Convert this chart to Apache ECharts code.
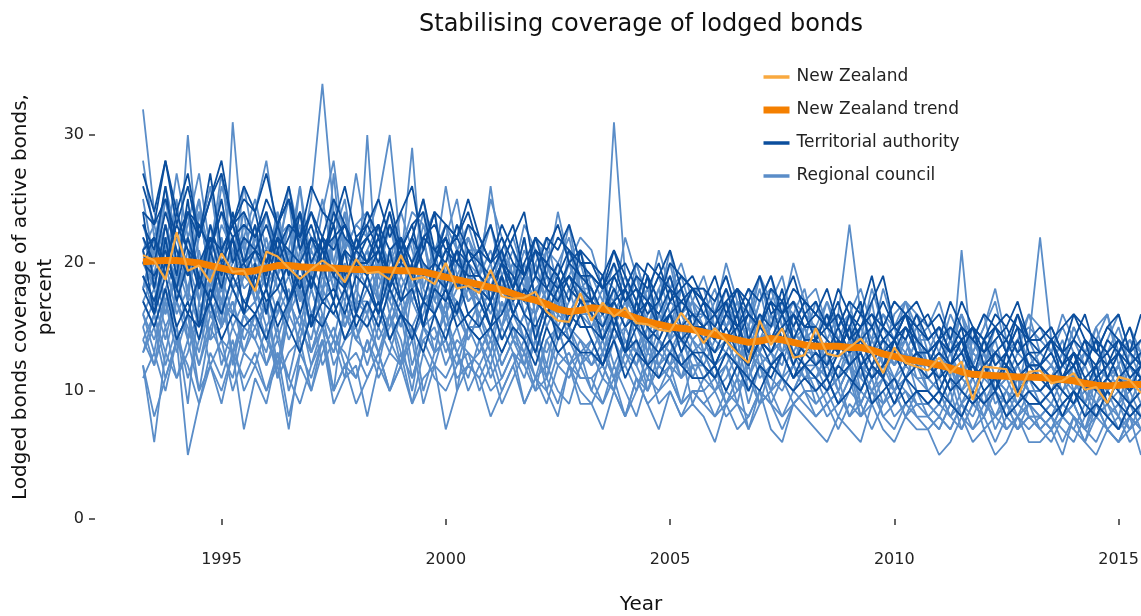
<!DOCTYPE html>
<html>
<head>
<meta charset="utf-8">
<script src="https://cdn.jsdelivr.net/npm/echarts@6/dist/echarts.min.js"></script>
<style>
  html, body { margin: 0; padding: 0; background: #fff; }
  #chart { width: 1141px; height: 616px; }
</style>
</head>
<body>
<div id="chart"></div>
<script>
  // quarterly observations, 1993 Q2 .. 2015 Q3
  const quarters = [
    1993.25, 1993.5, 1993.75,
    1994, 1994.25, 1994.5, 1994.75, 1995, 1995.25, 1995.5, 1995.75,
    1996, 1996.25, 1996.5, 1996.75, 1997, 1997.25, 1997.5, 1997.75,
    1998, 1998.25, 1998.5, 1998.75, 1999, 1999.25, 1999.5, 1999.75,
    2000, 2000.25, 2000.5, 2000.75, 2001, 2001.25, 2001.5, 2001.75,
    2002, 2002.25, 2002.5, 2002.75, 2003, 2003.25, 2003.5, 2003.75,
    2004, 2004.25, 2004.5, 2004.75, 2005, 2005.25, 2005.5, 2005.75,
    2006, 2006.25, 2006.5, 2006.75, 2007, 2007.25, 2007.5, 2007.75,
    2008, 2008.25, 2008.5, 2008.75, 2009, 2009.25, 2009.5, 2009.75,
    2010, 2010.25, 2010.5, 2010.75, 2011, 2011.25, 2011.5, 2011.75,
    2012, 2012.25, 2012.5, 2012.75, 2013, 2013.25, 2013.5, 2013.75,
    2014, 2014.25, 2014.5, 2014.75, 2015, 2015.25, 2015.5
  ];

  const xTicks = [1995, 2000, 2005, 2010, 2015];
  const yTicks = [0, 10, 20, 30];

  const nzValues = [
    20.6, 20.2, 18.7, 22.4, 19.4, 19.8, 18.5, 20.75, 19.3, 19.4,
    17.8, 20.9, 20.5, 19.6, 18.75, 19.5, 20.2, 19.6, 18.5, 20.3,
    19.2, 19.3, 18.7, 20.6, 18.7, 18.9, 18.35, 20.0, 18.0, 18.2,
    17.65, 19.45, 17.4, 17.2, 17.3, 17.75, 16.2, 15.5, 15.4, 17.65,
    15.5, 16.9, 15.8, 16.5, 15.3, 15.2, 14.8, 14.65, 16.1, 15.0,
    13.75, 14.9, 13.9, 12.95, 12.2, 15.5, 13.6, 14.9, 12.6, 12.8,
    14.9, 12.9, 12.7, 13.4, 14.1, 13.0, 11.4, 13.4, 12.2, 11.9,
    11.6, 12.6, 11.4, 12.3, 9.3, 11.9, 11.8, 11.7, 9.55, 11.5,
    11.6, 10.6, 10.8, 11.4, 10.1, 10.3, 9.05, 11.1, 10.85, 9.85
  ];

  const nzTrend = [
    20.1, 20.15, 20.2, 20.2, 20.1, 20.0, 19.8, 19.6, 19.4, 19.3,
    19.4, 19.6, 19.8, 19.8, 19.7, 19.65, 19.6, 19.6, 19.55, 19.5,
    19.5, 19.5, 19.45, 19.4, 19.4, 19.3, 19.1, 18.9, 18.7, 18.5,
    18.3, 18.1, 17.9, 17.6, 17.3, 17.1, 16.8, 16.4, 16.2, 16.3,
    16.5, 16.4, 16.2, 16.0, 15.7, 15.4, 15.2, 15.0, 14.9, 14.8,
    14.6, 14.4, 14.2, 14.0, 13.8, 13.9, 14.1, 14.0, 13.8, 13.6,
    13.5, 13.5, 13.5, 13.4, 13.4, 13.2, 12.9, 12.7, 12.5, 12.35,
    12.2, 12.0, 11.8, 11.5, 11.3, 11.25, 11.2, 11.15, 11.1, 11.1,
    11.05, 11.0, 10.9, 10.8, 10.6, 10.45, 10.4, 10.45, 10.5, 10.5
  ];

  // regional councils
  const rc01 = [
    32, 24, 21, 27, 22, 25, 20, 26, 23, 21,
    24, 28, 22, 23, 20, 25, 34, 24, 21, 27,
    22, 25, 30, 21, 24, 23, 20, 26, 21, 23,
    20, 25, 22, 19, 23, 21, 19, 24, 20, 22,
    21, 18, 17, 22, 19, 17, 21, 18, 20, 17,
    19, 16, 20, 17, 15, 19, 17, 16, 20, 17,
    18, 15, 16, 23, 16, 14, 18, 15, 17, 16,
    15, 17, 14, 16, 13, 15, 18, 14, 13, 16,
    15, 13, 16, 14, 12, 15, 16, 13, 15, 13
  ];
  const rc02 = [
    12, 8, 11, 14, 5, 9, 12, 10, 13, 7,
    11, 9, 13, 8, 12, 10, 14, 9, 11, 12,
    8, 12, 10, 13, 9, 11, 12, 7, 10, 12,
    11, 8, 10, 12, 9, 11, 10, 8, 12, 9,
    9, 7, 10, 8, 11, 9, 7, 10, 8, 9,
    8, 6, 9, 7, 8, 10, 7, 6, 9, 8,
    7, 6, 8, 7, 6, 9, 7, 6, 8, 7,
    7, 5, 6, 8, 6, 7, 5, 6, 8, 6,
    6, 7, 5, 8, 6, 5, 7, 6, 8, 5
  ];
  const rc03 = [
    21, 18, 23, 20, 17, 24, 19, 22, 18, 20,
    23, 19, 21, 25, 18, 20, 22, 19, 24, 18,
    20, 23, 18, 21, 19, 22, 17, 20, 23, 19,
    19, 17, 20, 18, 22, 17, 19, 16, 21, 18,
    17, 15, 18, 16, 19, 15, 17, 14, 18, 16,
    16, 14, 17, 13, 15, 18, 14, 16, 13, 15,
    15, 12, 16, 14, 13, 17, 12, 14, 15, 13,
    13, 11, 14, 12, 15, 11, 13, 12, 10, 14,
    12, 11, 13, 10, 12, 14, 11, 12, 10, 13
  ];
  const rc04 = [
    16, 14, 17, 13, 16, 19, 14, 15, 17, 13,
    15, 17, 12, 16, 14, 18, 15, 13, 16, 14,
    16, 13, 15, 17, 12, 15, 14, 16, 13, 15,
    13, 15, 12, 14, 16, 13, 11, 14, 15, 12,
    13, 11, 14, 12, 10, 13, 12, 14, 11, 12,
    12, 10, 11, 13, 9, 12, 11, 10, 12, 11,
    11, 9, 10, 12, 8, 10, 11, 9, 10, 9,
    9, 8, 10, 7, 9, 10, 8, 9, 7, 9,
    8, 7, 9, 8, 6, 9, 8, 7, 9, 8
  ];
  const rc05 = [
    18, 22, 16, 19, 24, 17, 20, 15, 31, 21,
    17, 19, 23, 16, 20, 18, 15, 22, 19, 17,
    16, 20, 18, 15, 19, 22, 17, 16, 18, 20,
    15, 17, 19, 14, 16, 18, 15, 17, 14, 16,
    16, 13, 15, 17, 14, 12, 15, 16, 13, 15,
    14, 12, 13, 15, 11, 14, 13, 12, 15, 13,
    13, 11, 12, 14, 10, 12, 13, 11, 12, 14,
    11, 10, 12, 9, 11, 13, 10, 11, 9, 11,
    10, 9, 11, 10, 8, 11, 10, 9, 12, 10
  ];
  const rc06 = [
    22, 19, 25, 21, 18, 22, 26, 20, 19, 23,
    20, 24, 19, 21, 26, 20, 18, 22, 25, 19,
    21, 19, 23, 20, 18, 22, 24, 19, 21, 18,
    20, 18, 21, 19, 17, 20, 22, 18, 19, 21,
    18, 16, 31, 19, 17, 15, 18, 20, 16, 18,
    17, 15, 18, 16, 14, 17, 19, 15, 16, 18,
    14, 16, 15, 17, 13, 15, 16, 14, 17, 15,
    14, 12, 15, 13, 14, 16, 12, 13, 15, 12,
    13, 12, 14, 11, 13, 15, 12, 13, 14, 12
  ];
  const rc07 = [
    14, 12, 15, 11, 13, 16, 12, 14, 10, 13,
    12, 15, 11, 13, 14, 10, 13, 15, 12, 11,
    14, 11, 13, 12, 15, 10, 13, 14, 11, 12,
    11, 13, 10, 12, 14, 11, 9, 12, 13, 11,
    11, 9, 12, 10, 8, 11, 10, 12, 9, 10,
    10, 8, 9, 11, 7, 9, 10, 8, 9, 10,
    10, 8, 9, 11, 8, 9, 10, 8, 9, 10,
    8, 7, 9, 8, 7, 9, 8, 7, 8, 9,
    7, 8, 7, 6, 8, 9, 7, 8, 6, 7
  ];
  const rc08 = [
    19, 17, 21, 18, 30, 20, 17, 22, 18, 19,
    21, 18, 20, 23, 17, 19, 21, 18, 22, 20,
    19, 21, 17, 20, 29, 18, 16, 19, 21, 17,
    18, 16, 19, 17, 20, 16, 18, 15, 17, 19,
    16, 14, 17, 15, 13, 16, 18, 14, 15, 17,
    15, 13, 14, 16, 12, 15, 14, 13, 16, 14,
    14, 12, 13, 15, 11, 13, 14, 12, 13, 15,
    12, 11, 13, 10, 12, 14, 11, 12, 10, 12,
    11, 10, 12, 11, 9, 12, 11, 10, 13, 11
  ];
  const rc09 = [
    17, 15, 18, 20, 14, 16, 19, 15, 17, 14,
    16, 18, 14, 17, 15, 19, 16, 14, 18, 16,
    30, 17, 15, 18, 14, 16, 19, 15, 17, 14,
    16, 14, 17, 15, 13, 16, 18, 14, 15, 13,
    14, 12, 15, 13, 16, 12, 14, 13, 11, 14,
    13, 11, 12, 14, 10, 12, 13, 11, 14, 12,
    12, 10, 11, 13, 9, 11, 12, 10, 11, 13,
    10, 9, 11, 8, 10, 12, 9, 10, 8, 10,
    9, 8, 10, 9, 7, 10, 9, 8, 11, 9
  ];
  const rc10 = [
    23, 20, 26, 22, 19, 24, 21, 27, 20, 22,
    25, 21, 23, 20, 24, 22, 19, 25, 21, 23,
    22, 20, 24, 21, 19, 23, 20, 22, 25, 20,
    19, 26, 20, 18, 21, 19, 17, 20, 22, 18,
    17, 19, 16, 18, 20, 17, 15, 18, 19, 16,
    15, 17, 19, 16, 14, 17, 18, 15, 17, 16,
    15, 17, 14, 16, 18, 15, 13, 16, 17, 14,
    14, 15, 13, 16, 14, 12, 15, 13, 14, 16,
    13, 14, 12, 15, 13, 11, 14, 16, 13, 12
  ];
  const rc11 = [
    13, 16, 12, 15, 11, 14, 17, 12, 15, 13,
    16, 12, 14, 11, 15, 13, 16, 12, 14, 15,
    12, 15, 13, 16, 11, 14, 12, 15, 13, 11,
    14, 11, 13, 15, 12, 10, 14, 12, 11, 13,
    10, 13, 11, 12, 14, 10, 12, 11, 13, 9,
    11, 12, 9, 11, 10, 12, 9, 11, 10, 12,
    9, 10, 11, 8, 10, 9, 11, 10, 8, 10,
    9, 8, 7, 9, 8, 10, 7, 9, 8, 7,
    8, 7, 8, 9, 7, 6, 8, 7, 9, 7
  ];
  const rc12 = [
    20, 18, 22, 17, 21, 19, 23, 18, 20, 24,
    18, 21, 19, 23, 17, 20, 22, 18, 21, 19,
    21, 17, 20, 22, 18, 19, 21, 17, 20, 18,
    17, 19, 21, 16, 18, 20, 17, 19, 16, 18,
    18, 15, 17, 19, 16, 14, 17, 15, 18, 16,
    14, 16, 15, 17, 13, 16, 14, 15, 17, 14,
    15, 13, 14, 16, 12, 14, 15, 13, 14, 12,
    12, 14, 13, 11, 14, 12, 13, 11, 13, 12,
    12, 11, 13, 12, 10, 12, 11, 13, 10, 11
  ];
  const rc13 = [
    15, 17, 14, 18, 16, 13, 17, 15, 18, 16,
    17, 14, 16, 18, 13, 16, 15, 17, 14, 16,
    15, 17, 14, 16, 18, 15, 13, 17, 16, 14,
    16, 13, 15, 17, 14, 15, 12, 16, 15, 14,
    13, 15, 12, 14, 13, 15, 12, 13, 14, 12,
    12, 11, 13, 12, 14, 11, 12, 13, 11, 12,
    11, 12, 10, 12, 11, 10, 12, 11, 13, 10,
    10, 9, 11, 10, 9, 11, 10, 8, 10, 9,
    9, 10, 8, 9, 10, 8, 9, 10, 8, 9
  ];
  const rc14 = [
    19, 16, 20, 25, 17, 18, 21, 16, 19, 22,
    17, 20, 18, 16, 21, 19, 17, 27, 18, 20,
    18, 16, 19, 21, 17, 20, 18, 16, 19, 17,
    18, 17, 15, 19, 17, 16, 20, 17, 15, 18,
    16, 14, 17, 15, 16, 19, 14, 16, 15, 17,
    13, 15, 14, 12, 15, 14, 16, 13, 14, 15,
    12, 14, 13, 15, 12, 13, 11, 14, 13, 12,
    11, 12, 10, 12, 11, 13, 10, 11, 12, 10,
    10, 11, 10, 12, 9, 11, 10, 11, 9, 10
  ];
  const rc15 = [
    21, 23, 19, 22, 20, 25, 18, 21, 23, 19,
    22, 20, 24, 19, 22, 21, 25, 20, 18, 22,
    19, 22, 20, 24, 21, 18, 21, 23, 19, 21,
    21, 18, 20, 22, 19, 17, 21, 20, 18, 20,
    17, 19, 18, 16, 20, 17, 19, 16, 18, 15,
    16, 18, 15, 17, 16, 19, 15, 17, 16, 14,
    17, 14, 16, 15, 17, 13, 16, 15, 14, 16,
    13, 15, 14, 16, 12, 14, 15, 13, 15, 14,
    22, 14, 12, 15, 13, 14, 16, 12, 14, 13
  ];
  const rc16 = [
    11, 13, 10, 14, 12, 9, 13, 11, 14, 10,
    12, 10, 13, 11, 9, 12, 14, 10, 12, 13,
    11, 13, 10, 12, 14, 9, 12, 11, 13, 10,
    12, 10, 11, 13, 9, 11, 12, 10, 9, 12,
    10, 9, 11, 8, 10, 12, 9, 10, 8, 10,
    9, 10, 8, 9, 7, 10, 9, 8, 10, 9,
    8, 9, 10, 8, 9, 7, 9, 10, 8, 9,
    8, 7, 9, 8, 10, 7, 8, 9, 7, 8,
    7, 8, 6, 8, 7, 9, 7, 6, 8, 7
  ];
  const rc17 = [
    28, 22, 25, 20, 23, 27, 21, 24, 20, 26,
    21, 24, 20, 26, 22, 19, 24, 28, 21, 23,
    24, 21, 23, 19, 22, 25, 20, 23, 21, 22,
    20, 23, 19, 21, 18, 22, 20, 19, 23, 18,
    19, 17, 20, 18, 16, 19, 17, 21, 16, 18,
    18, 15, 17, 16, 18, 15, 17, 19, 15, 17,
    14, 17, 15, 16, 14, 18, 15, 17, 16, 14,
    15, 13, 16, 14, 13, 15, 17, 13, 14, 15,
    14, 13, 15, 13, 12, 14, 13, 15, 12, 14
  ];
  const rc18 = [
    14, 16, 13, 17, 15, 12, 16, 14, 13, 16,
    15, 13, 17, 14, 16, 12, 15, 13, 16, 14,
    13, 16, 14, 12, 15, 17, 13, 14, 12, 15,
    14, 12, 15, 13, 11, 14, 13, 15, 12, 13,
    12, 13, 11, 14, 12, 10, 13, 12, 11, 13,
    11, 10, 12, 10, 11, 13, 10, 11, 12, 10,
    10, 11, 9, 11, 10, 12, 9, 10, 11, 9,
    9, 10, 8, 10, 9, 8, 10, 9, 11, 8,
    8, 9, 8, 7, 9, 8, 10, 8, 7, 9
  ];
  const rc19 = [
    17, 19, 16, 20, 18, 15, 19, 17, 16, 19,
    18, 16, 19, 17, 20, 16, 18, 19, 15, 18,
    16, 19, 17, 15, 18, 20, 16, 18, 17, 15,
    17, 15, 18, 16, 14, 17, 16, 18, 15, 17,
    15, 16, 14, 15, 17, 13, 16, 14, 15, 13,
    14, 12, 14, 13, 15, 12, 13, 14, 12, 14,
    12, 13, 11, 14, 12, 11, 13, 12, 14, 11,
    11, 10, 12, 11, 10, 12, 11, 13, 10, 11,
    10, 11, 9, 10, 11, 9, 10, 12, 9, 10
  ];
  const rc20 = [
    18, 21, 17, 19, 22, 18, 20, 17, 21, 19,
    20, 18, 22, 19, 26, 18, 21, 19, 17, 21,
    19, 17, 21, 18, 20, 22, 18, 17, 20, 19,
    18, 20, 16, 19, 17, 19, 21, 16, 18, 17,
    17, 15, 16, 18, 15, 17, 16, 14, 17, 16,
    15, 14, 16, 14, 17, 13, 15, 16, 14, 13,
    14, 15, 13, 12, 15, 13, 14, 12, 15, 13,
    12, 13, 11, 21, 12, 11, 13, 12, 11, 12,
    11, 12, 10, 11, 12, 10, 11, 12, 10, 11
  ];
  const rc21 = [
    16, 13, 18, 15, 9, 17, 14, 19, 12, 16,
    14, 17, 11, 16, 18, 13, 15, 10, 17, 14,
    17, 14, 16, 12, 18, 15, 13, 17, 10, 15,
    15, 13, 17, 14, 12, 16, 11, 15, 14, 12,
    14, 12, 10, 15, 13, 11, 14, 12, 15, 11,
    13, 11, 12, 9, 13, 12, 10, 13, 11, 12,
    11, 13, 10, 12, 9, 11, 13, 10, 12, 11,
    10, 11, 9, 12, 10, 8, 11, 10, 9, 11,
    9, 10, 8, 10, 9, 11, 8, 9, 10, 8
  ];
  const rc22 = [
    13, 15, 11, 14, 16, 12, 15, 13, 11, 15,
    14, 12, 15, 10, 13, 16, 12, 14, 13, 11,
    14, 12, 16, 13, 11, 14, 15, 12, 14, 13,
    12, 14, 11, 13, 12, 14, 10, 13, 12, 11,
    11, 12, 10, 13, 11, 10, 12, 11, 9, 12,
    10, 11, 9, 10, 12, 9, 10, 11, 9, 10,
    9, 10, 8, 10, 9, 11, 8, 9, 10, 8,
    8, 9, 8, 7, 9, 8, 10, 7, 8, 9,
    8, 7, 9, 8, 7, 8, 9, 7, 8, 7
  ];
  const rc23 = [
    19, 17, 20, 16, 18, 21, 17, 19, 16, 20,
    17, 19, 16, 21, 18, 15, 19, 17, 20, 16,
    18, 20, 16, 19, 17, 15, 18, 20, 16, 18,
    16, 18, 15, 17, 19, 14, 17, 16, 18, 15,
    15, 17, 14, 16, 15, 13, 16, 15, 14, 16,
    13, 15, 14, 12, 14, 16, 13, 14, 12, 15,
    13, 12, 14, 13, 11, 14, 12, 13, 14, 12,
    11, 12, 10, 12, 11, 13, 10, 12, 11, 10,
    10, 11, 10, 9, 11, 10, 12, 10, 9, 11
  ];
  const rc24 = [
    15, 12, 17, 14, 16, 10, 15, 17, 13, 15,
    16, 14, 12, 17, 15, 13, 16, 14, 11, 16,
    15, 13, 16, 14, 10, 15, 16, 13, 15, 12,
    13, 15, 12, 14, 13, 11, 14, 15, 12, 14,
    12, 14, 11, 13, 12, 14, 11, 12, 13, 11,
    11, 12, 10, 12, 11, 9, 12, 11, 10, 12,
    10, 11, 9, 10, 12, 10, 9, 11, 10, 9,
    9, 10, 8, 9, 10, 9, 8, 10, 9, 8,
    8, 9, 8, 9, 7, 9, 8, 9, 7, 8
  ];
  const rc25 = [
    25, 20, 23, 19, 22, 24, 19, 23, 21, 20,
    22, 19, 24, 20, 23, 18, 22, 20, 24, 19,
    21, 23, 19, 22, 20, 24, 19, 21, 18, 22,
    19, 21, 18, 20, 17, 21, 19, 18, 20, 17,
    18, 16, 19, 17, 18, 15, 17, 19, 16, 17,
    16, 14, 17, 15, 16, 14, 15, 17, 14, 16,
    14, 16, 13, 15, 14, 13, 15, 14, 16, 13,
    13, 12, 14, 13, 12, 14, 13, 12, 14, 12,
    12, 13, 11, 12, 13, 11, 12, 13, 11, 12
  ];
  const rc26 = [
    16, 18, 15, 17, 14, 19, 16, 18, 15, 17,
    18, 15, 17, 19, 16, 14, 18, 16, 15, 17,
    17, 15, 18, 16, 14, 17, 18, 15, 16, 19,
    15, 17, 14, 16, 15, 13, 16, 17, 14, 16,
    15, 13, 16, 14, 12, 15, 14, 13, 15, 14,
    12, 14, 13, 11, 14, 13, 12, 14, 13, 11,
    12, 11, 13, 12, 10, 12, 11, 13, 11, 12,
    10, 11, 12, 10, 11, 9, 11, 10, 12, 10,
    9, 10, 11, 9, 10, 9, 11, 10, 9, 10
  ];
  const rc27 = [
    12, 6, 13, 11, 14, 10, 12, 9, 13, 11,
    13, 10, 12, 7, 13, 11, 14, 10, 12, 9,
    11, 13, 10, 12, 9, 13, 11, 10, 12, 13,
    10, 12, 9, 11, 13, 10, 11, 9, 12, 10,
    9, 11, 10, 8, 11, 9, 10, 11, 9, 10,
    9, 8, 10, 9, 8, 10, 9, 7, 9, 10,
    8, 9, 7, 9, 8, 10, 8, 7, 9, 8,
    7, 8, 7, 9, 7, 8, 6, 8, 7, 8,
    7, 6, 8, 7, 6, 8, 7, 6, 7, 8
  ];
  const rc28 = [
    18, 20, 22, 18, 20, 17, 22, 19, 21, 18,
    19, 22, 18, 20, 17, 21, 19, 22, 18, 20,
    20, 18, 21, 19, 22, 17, 20, 18, 21, 19,
    17, 19, 18, 20, 16, 18, 19, 17, 20, 18,
    16, 18, 15, 17, 16, 18, 15, 17, 16, 14,
    15, 13, 15, 16, 14, 13, 16, 14, 15, 13,
    14, 13, 15, 12, 14, 13, 14, 15, 12, 14,
    12, 13, 12, 11, 13, 12, 14, 11, 12, 13,
    11, 12, 11, 12, 10, 11, 12, 11, 12, 10
  ];

  // territorial authorities
  const ta01 = [
    27, 24, 28, 23, 26, 22, 25, 27, 23, 24,
    22, 25, 23, 26, 21, 24, 22, 25, 23, 21,
    24, 22, 25, 21, 23, 24, 20, 23, 22, 24,
    21, 23, 20, 22, 24, 19, 22, 21, 23, 20,
    20, 18, 21, 19, 17, 20, 19, 21, 18, 19,
    17, 19, 16, 18, 17, 15, 18, 17, 19, 16,
    17, 15, 18, 16, 15, 17, 19, 15, 16, 17,
    15, 16, 14, 17, 15, 14, 16, 15, 17, 14,
    14, 15, 13, 16, 14, 13, 15, 16, 13, 14
  ];
  const ta02 = [
    18, 16, 19, 15, 17, 14, 18, 16, 19, 17,
    16, 18, 15, 17, 19, 15, 17, 16, 18, 15,
    17, 15, 18, 16, 14, 17, 16, 18, 15, 16,
    15, 17, 14, 16, 15, 13, 16, 15, 14, 16,
    14, 12, 15, 13, 14, 12, 13, 14, 12, 13,
    12, 11, 13, 12, 10, 12, 11, 13, 11, 12,
    11, 10, 12, 11, 10, 12, 11, 9, 11, 10,
    10, 9, 11, 10, 9, 10, 11, 9, 10, 9,
    9, 10, 8, 10, 9, 8, 10, 9, 8, 9
  ];
  const ta03 = [
    22, 20, 24, 21, 19, 23, 21, 25, 20, 22,
    21, 23, 20, 22, 24, 20, 22, 21, 23, 20,
    22, 20, 23, 21, 19, 22, 21, 20, 23, 21,
    20, 19, 21, 18, 20, 22, 19, 18, 20, 19,
    18, 16, 19, 17, 18, 16, 17, 19, 16, 18,
    16, 15, 17, 14, 16, 15, 17, 14, 16, 15,
    15, 14, 13, 16, 14, 15, 13, 14, 16, 14,
    13, 14, 12, 13, 15, 12, 13, 14, 12, 13,
    12, 13, 11, 12, 14, 11, 12, 13, 11, 12
  ];
  const ta04 = [
    20, 19, 21, 18, 22, 19, 17, 21, 19, 20,
    18, 21, 19, 17, 20, 18, 22, 19, 18, 20,
    19, 21, 18, 20, 19, 17, 20, 19, 21, 18,
    18, 17, 19, 16, 18, 17, 16, 18, 19, 17,
    16, 15, 17, 15, 16, 14, 15, 16, 14, 15,
    14, 13, 15, 13, 12, 14, 13, 15, 13, 12,
    13, 12, 14, 12, 13, 11, 12, 14, 12, 13,
    12, 11, 12, 13, 11, 12, 10, 12, 11, 12,
    11, 10, 11, 12, 10, 11, 9, 11, 10, 11
  ];
  const ta05 = [
    23, 21, 26, 20, 24, 22, 27, 21, 23, 25,
    24, 20, 23, 25, 21, 23, 20, 24, 22, 21,
    23, 21, 24, 20, 22, 25, 21, 22, 20, 23,
    22, 20, 21, 23, 19, 21, 20, 22, 21, 19,
    19, 18, 20, 17, 19, 18, 20, 17, 19, 18,
    17, 16, 18, 15, 17, 19, 16, 17, 15, 17,
    16, 15, 17, 14, 16, 15, 17, 15, 14, 16,
    14, 15, 13, 15, 14, 13, 15, 14, 16, 13,
    13, 14, 12, 14, 13, 12, 14, 13, 15, 12
  ];
  const ta06 = [
    19, 17, 20, 18, 16, 19, 17, 20, 18, 16,
    19, 17, 18, 20, 16, 19, 17, 18, 16, 19,
    18, 16, 19, 17, 18, 15, 18, 17, 19, 16,
    17, 15, 16, 18, 16, 15, 17, 14, 16, 15,
    15, 14, 16, 13, 15, 14, 13, 15, 14, 13,
    13, 12, 14, 13, 12, 14, 12, 13, 11, 13,
    12, 13, 11, 12, 13, 11, 12, 13, 11, 12,
    11, 12, 10, 11, 12, 10, 11, 12, 10, 11,
    10, 11, 10, 9, 11, 10, 11, 10, 9, 10
  ];
  const ta07 = [
    21, 22, 20, 23, 21, 20, 22, 21, 23, 20,
    21, 20, 22, 21, 20, 22, 21, 19, 21, 20,
    20, 21, 19, 20, 22, 20, 19, 21, 20, 19,
    19, 18, 20, 19, 17, 19, 18, 20, 18, 17,
    17, 16, 17, 18, 16, 17, 15, 16, 17, 16,
    15, 16, 14, 15, 16, 15, 14, 15, 16, 14,
    14, 15, 14, 13, 15, 16, 15, 14, 15, 14,
    13, 14, 15, 14, 15, 14, 15, 16, 15, 14,
    15, 14, 15, 16, 15, 14, 13, 14, 12, 13
  ];
  const ta08 = [
    24, 18, 23, 19, 25, 18, 22, 19, 24, 20,
    23, 18, 22, 19, 24, 18, 21, 23, 18, 22,
    20, 23, 18, 22, 19, 21, 24, 18, 21, 20,
    21, 17, 20, 18, 22, 17, 20, 19, 17, 21,
    17, 19, 15, 18, 16, 19, 15, 17, 18, 15,
    17, 14, 16, 18, 14, 16, 15, 18, 14, 16,
    14, 16, 13, 15, 17, 13, 15, 14, 16, 13,
    12, 14, 13, 15, 11, 14, 12, 13, 15, 11,
    12, 14, 11, 13, 12, 14, 11, 13, 12, 11
  ];
  const ta09 = [
    17, 15, 18, 14, 16, 15, 17, 14, 16, 15,
    16, 14, 17, 15, 13, 16, 15, 17, 14, 16,
    15, 17, 14, 16, 15, 13, 16, 14, 17, 15,
    14, 15, 13, 15, 14, 12, 15, 13, 14, 13,
    13, 12, 14, 11, 13, 12, 11, 13, 12, 11,
    11, 12, 10, 12, 11, 10, 12, 11, 10, 11,
    10, 11, 9, 10, 12, 9, 10, 11, 9, 10,
    9, 10, 9, 8, 10, 9, 10, 8, 9, 10,
    9, 8, 9, 10, 8, 9, 8, 7, 9, 8
  ];
  const ta10 = [
    26, 23, 28, 24, 27, 22, 25, 28, 23, 26,
    24, 27, 23, 25, 22, 26, 24, 23, 26, 22,
    23, 25, 22, 24, 26, 21, 24, 23, 22, 25,
    22, 20, 23, 21, 19, 22, 21, 23, 20, 21,
    20, 19, 21, 18, 20, 19, 17, 20, 19, 18,
    18, 17, 19, 16, 18, 17, 19, 16, 18, 17,
    16, 18, 15, 17, 16, 19, 15, 17, 16, 15,
    16, 14, 17, 15, 14, 16, 15, 13, 16, 14,
    14, 15, 13, 14, 16, 13, 15, 14, 13, 16
  ];
  const ta11 = [
    24, 23, 25, 22, 24, 23, 21, 24, 22, 23,
    22, 24, 21, 23, 22, 24, 21, 22, 23, 21,
    22, 23, 21, 22, 20, 22, 23, 21, 22, 20,
    21, 20, 22, 20, 19, 21, 20, 19, 21, 20,
    19, 18, 19, 20, 18, 17, 19, 18, 17, 18,
    17, 16, 17, 18, 16, 15, 17, 16, 17, 15,
    16, 15, 16, 14, 15, 16, 14, 15, 16, 15,
    14, 15, 13, 14, 15, 13, 14, 15, 13, 14,
    13, 14, 13, 12, 14, 13, 12, 14, 13, 12
  ];
  const ta12 = [
    21, 16, 22, 17, 20, 15, 21, 18, 22, 16,
    20, 16, 21, 17, 19, 15, 20, 17, 21, 16,
    19, 16, 21, 17, 20, 15, 19, 18, 16, 20,
    18, 15, 19, 16, 18, 14, 17, 19, 15, 17,
    17, 14, 16, 13, 17, 15, 14, 16, 13, 15,
    15, 12, 14, 16, 12, 14, 13, 15, 12, 14,
    14, 11, 13, 15, 12, 13, 11, 14, 12, 13,
    13, 10, 12, 14, 11, 12, 10, 13, 11, 12,
    12, 10, 11, 13, 10, 12, 9, 11, 10, 12
  ];
  const ta13 = [
    20, 22, 19, 24, 21, 18, 23, 20, 22, 19,
    21, 19, 23, 20, 18, 22, 20, 23, 19, 21,
    20, 22, 19, 21, 23, 19, 20, 22, 18, 21,
    19, 18, 20, 17, 19, 21, 18, 17, 19, 18,
    17, 16, 18, 16, 15, 17, 16, 18, 15, 16,
    15, 14, 16, 15, 13, 15, 14, 16, 14, 13,
    14, 13, 15, 13, 14, 12, 14, 13, 15, 13,
    12, 13, 12, 14, 12, 11, 13, 12, 14, 12,
    12, 11, 12, 13, 11, 12, 13, 11, 12, 11
  ];

  const regionalCouncils = [rc01, rc02, rc03, rc04, rc05, rc06, rc07, rc08, rc09, rc10,
    rc11, rc12, rc13, rc14, rc15, rc16, rc17, rc18, rc19, rc20,
    rc21, rc22, rc23, rc24, rc25, rc26, rc27, rc28];
  const territorialAuthorities = [ta01, ta02, ta03, ta04, ta05, ta06, ta07, ta08, ta09, ta10,
    ta11, ta12, ta13];

  const colors = {
    nz: '#f9a93f',
    trend: '#f47f00',
    ta: '#0b4e9d',
    rc: '#5a8dc8',
  };

  const toPairs = (vals) => vals.map((v, i) => [quarters[i], v]);

  const lineSeries = (name, vals, color, width, z) => ({
    type: 'line',
    name,
    data: toPairs(vals),
    symbol: 'none',
    showSymbol: false,
    silent: true,
    z,
    lineStyle: { color, width },
    itemStyle: { color },
  });

  const series = [
    ...regionalCouncils.map((v) => lineSeries('Regional council', v, colors.rc, 1.8, 2)),
    ...territorialAuthorities.map((v) => lineSeries('Territorial authority', v, colors.ta, 1.8, 3)),
    lineSeries('New Zealand trend', nzTrend, colors.trend, 7, 4),
    lineSeries('New Zealand', nzValues, colors.nz, 2.2, 5),
  ];

  const chart = echarts.init(document.getElementById('chart'), null, { renderer: 'canvas' });
  chart.setOption({
    animation: false,
    textStyle: { fontFamily: 'DejaVu Sans' },
    grid: { left: 143, right: 0, top: 71, bottom: 97, outerBoundsMode: 'none' },
    legend: {
      orient: 'vertical',
      left: 755,
      top: 62,
      itemWidth: 26,
      itemHeight: 14,
      itemGap: 13,
      selectedMode: false,
      itemStyle: { opacity: 0, color: 'rgba(0,0,0,0)', borderWidth: 0 },
      data: [
        { name: 'New Zealand', lineStyle: { width: 3.5 } },
        { name: 'New Zealand trend', lineStyle: { width: 7 } },
        { name: 'Territorial authority', lineStyle: { width: 3.5 } },
        { name: 'Regional council', lineStyle: { width: 3.5 } },
      ],
      textStyle: { fontFamily: 'DejaVu Sans', fontSize: 17, color: '#222', lineHeight: 20, padding: [0, 0, 0, 2] },
    },
    xAxis: {
      type: 'value',
      min: 1993.25,
      max: 2015.5,
      offset: 22,
      axisLine: { show: false },
      axisTick: { show: true, length: 6, customValues: xTicks, lineStyle: { color: '#333', width: 1.5 } },
      axisLabel: { customValues: xTicks, margin: 11, fontSize: 16, color: '#222', formatter: (v) => String(v) },
      splitLine: { show: false },
    },
    yAxis: {
      type: 'value',
      min: 0,
      max: 35,
      offset: 48,
      axisLine: { show: false },
      axisTick: { show: true, length: 6, customValues: yTicks, lineStyle: { color: '#333', width: 1.5 } },
      axisLabel: { customValues: yTicks, margin: 11, fontSize: 16, color: '#222' },
      splitLine: { show: false },
    },
    graphic: [
      {
        type: 'text', x: 641, y: 25,
        style: { text: 'Stabilising coverage of lodged bonds', font: '24px "DejaVu Sans"', fill: '#111', align: 'center', verticalAlign: 'middle' },
      },
      {
        type: 'text', x: 641, y: 605,
        style: { text: 'Year', font: '20px "DejaVu Sans"', fill: '#111', align: 'center', verticalAlign: 'middle' },
      },
      {
        type: 'text', x: 33, y: 297, rotation: Math.PI / 2,
        style: { text: 'Lodged bonds coverage of active bonds,\npercent', font: '20px "DejaVu Sans"', lineHeight: 25, fill: '#111', align: 'center', verticalAlign: 'middle' },
      },
    ],
    series,
  });
</script>
</body>
</html>
